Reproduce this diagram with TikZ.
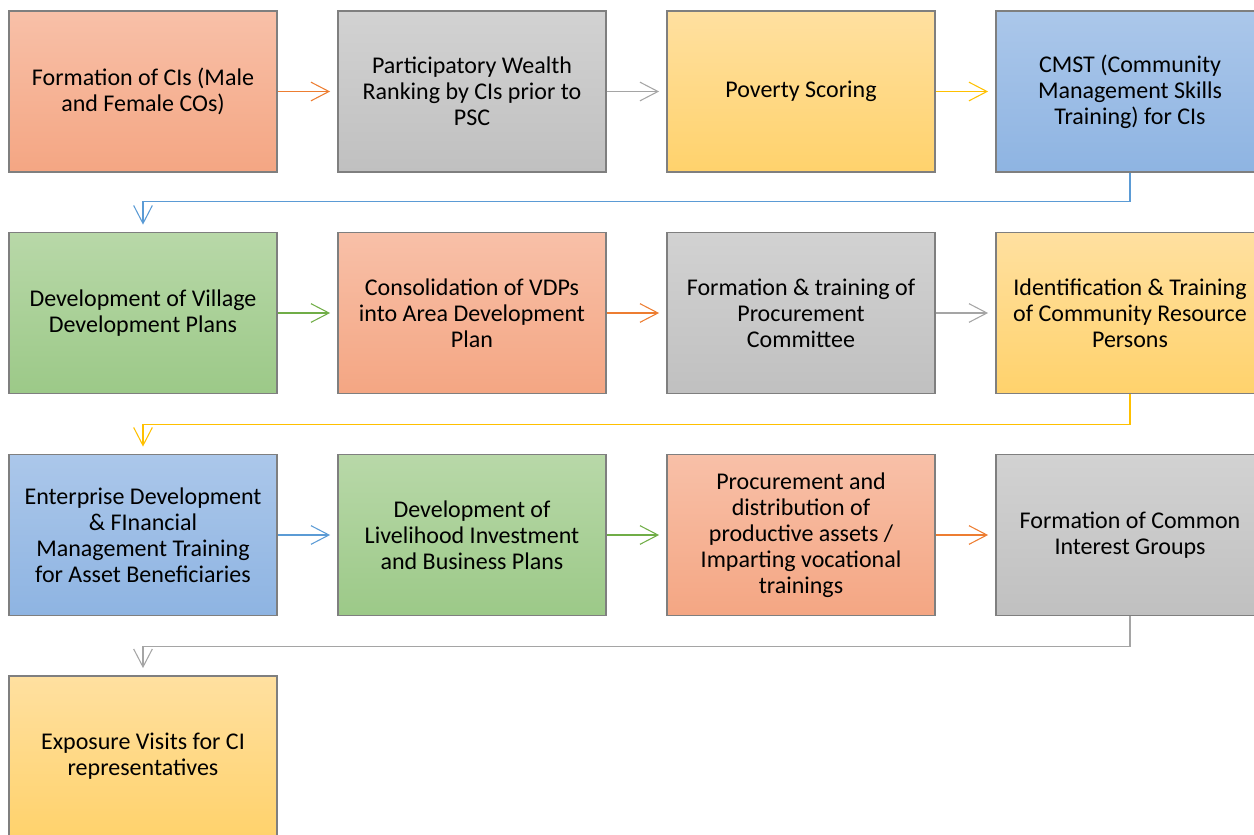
\documentclass[tikz,border=0pt]{standalone}
\usepackage{fontspec}
\setmainfont{Carlito}
\usetikzlibrary{arrows.meta,positioning}

\definecolor{orangeTop}{HTML}{F8C0A8}
\definecolor{orangeBot}{HTML}{F4A683}
\definecolor{grayTop}{HTML}{D2D2D2}
\definecolor{grayBot}{HTML}{C0C0C0}
\definecolor{goldTop}{HTML}{FFE0A0}
\definecolor{goldBot}{HTML}{FFD26C}
\definecolor{blueTop}{HTML}{ABC7EA}
\definecolor{blueBot}{HTML}{8EB4E2}
\definecolor{greenTop}{HTML}{B8D8A8}
\definecolor{greenBot}{HTML}{9CC988}
\definecolor{orangeLine}{HTML}{ED7D31}
\definecolor{grayLine}{HTML}{A5A5A5}
\definecolor{goldLine}{HTML}{FFC000}
\definecolor{blueLine}{HTML}{5B9BD5}
\definecolor{greenLine}{HTML}{70AD47}
\definecolor{boxEdge}{HTML}{7F7F7F}

\begin{document}
\begin{tikzpicture}[x=0.75pt, y=0.75pt, node distance=246.75pt, auto]
        \tikzstyle{stage}=[draw=boxEdge, line width=0.8pt, rectangle, minimum width=201pt, minimum height=120.75pt, inner sep=0pt, font=\fontsize{18pt}{19.5pt}\selectfont, align=center, text=black]
        \tikzstyle{orangebox}=[stage, top color=orangeTop, bottom color=orangeBot]
        \tikzstyle{graybox}=[stage, top color=grayTop, bottom color=grayBot]
        \tikzstyle{goldbox}=[stage, top color=goldTop, bottom color=goldBot]
        \tikzstyle{bluebox}=[stage, top color=blueTop, bottom color=blueBot]
        \tikzstyle{greenbox}=[stage, top color=greenTop, bottom color=greenBot]
        \tikzstyle{link}=[line width=0.8pt, -{Straight Barb[length=13.5pt, width=14pt, line width=0.8pt]}, shorten >=5.5pt]

        \useasboundingbox (0,0) rectangle (1254,-835);
        \clip (0,0) rectangle (1254,-835);

        % row 1
        \node[orangebox] at (143,-91.5) (form) {Formation of CIs (Male\\and Female COs)};
        \node[graybox, right of=form] (rank) {Participatory Wealth\\Ranking by CIs prior to\\PSC};
        \node[goldbox, right of=rank] (score) {Poverty Scoring};
        \node[bluebox, right of=score] (cmst) {CMST (Community\\Management Skills\\Training) for CIs};

        % row 2
        \node[greenbox] at (143,-313) (vdp) {Development of Village\\Development Plans};
        \node[orangebox, right of=vdp] (adp) {Consolidation of VDPs\\into Area Development\\Plan};
        \node[graybox, right of=adp] (proc) {Formation \& training of\\Procurement\\Committee};
        \node[goldbox, right of=proc] (crp) {Identification \& Training\\of Community Resource\\Persons};

        % row 3
        \node[bluebox] at (143,-535) (edft) {Enterprise Development\\\& FInancial\\Management Training\\for Asset Beneficiaries};
        \node[greenbox, right of=edft] (lbp) {Development of\\Livelihood Investment\\and Business Plans};
        \node[orangebox, right of=lbp] (assets) {Procurement and\\distribution of\\productive assets /\\Imparting vocational\\trainings};
        \node[graybox, right of=assets] (cig) {Formation of Common\\Interest Groups};

        % row 4
        \node[goldbox] at (143,-756.5) (visit) {Exposure Visits for CI\\representatives};

        \draw[link, orangeLine] (form) -- (rank);
        \draw[link, grayLine] (rank) -- (score);
        \draw[link, goldLine] (score) -- (cmst);
        \draw[link, blueLine] (cmst.south) -- ++(0,-29) -| (vdp.north);

        \draw[link, greenLine] (vdp) -- (adp);
        \draw[link, orangeLine] (adp) -- (proc);
        \draw[link, grayLine] (proc) -- (crp);
        \draw[link, goldLine] (crp.south) -- ++(0,-30) -| (edft.north);

        \draw[link, blueLine] (edft) -- (lbp);
        \draw[link, greenLine] (lbp) -- (assets);
        \draw[link, orangeLine] (assets) -- (cig);
        \draw[link, grayLine] (cig.south) -- ++(0,-30) -| (visit.north);
    \end{tikzpicture}
\end{document}
